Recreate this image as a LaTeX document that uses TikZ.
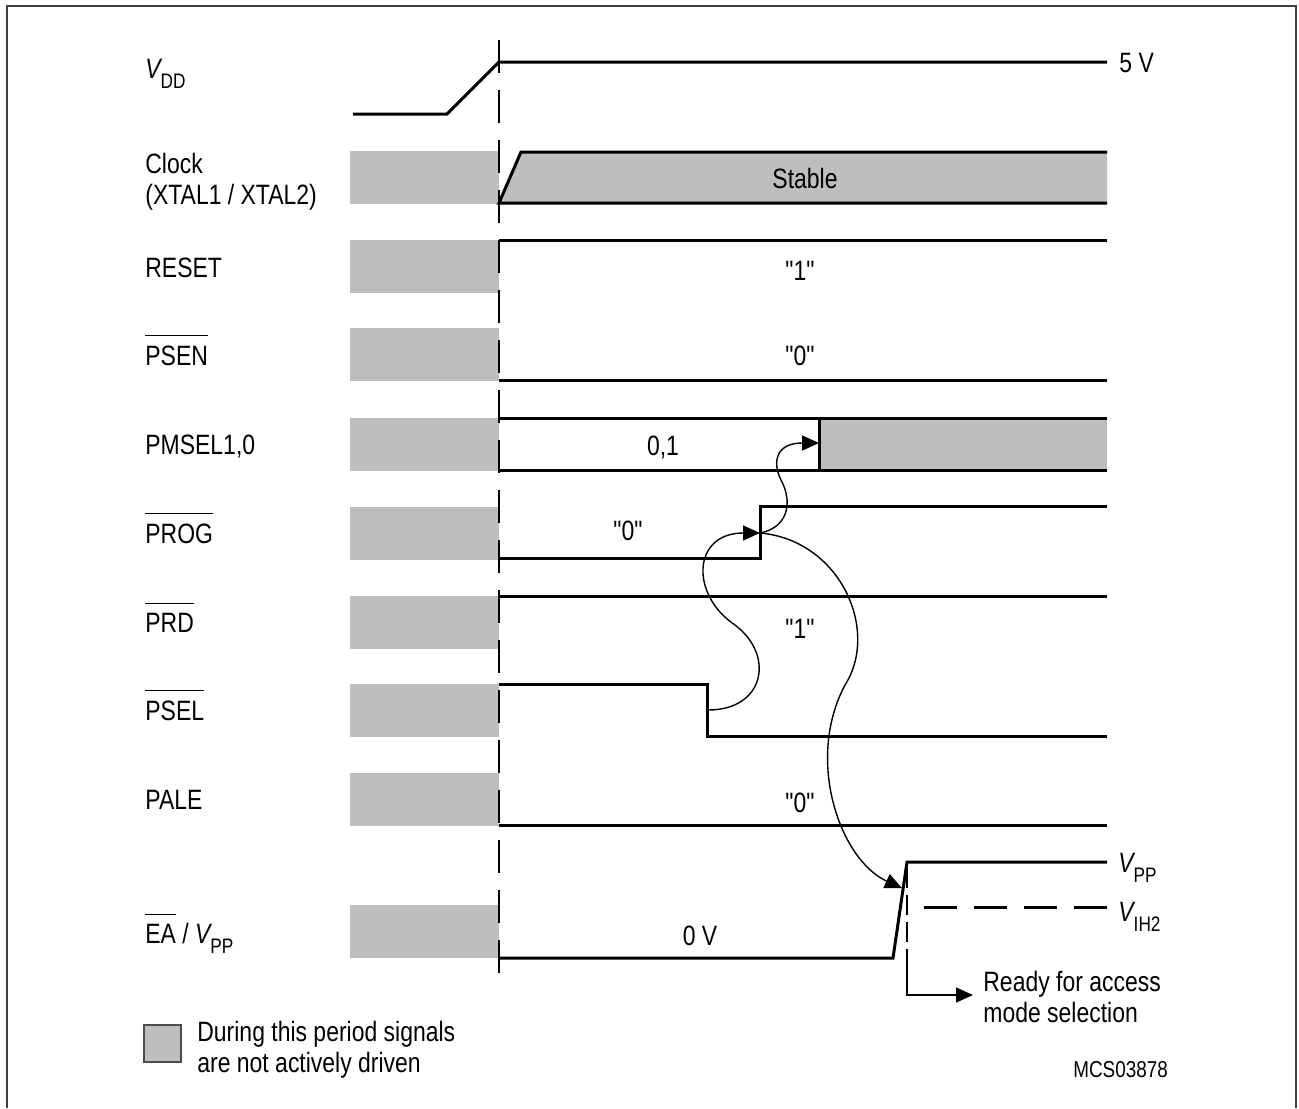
\documentclass[tikz,border=0pt]{standalone}
\usepackage{fontspec}
\newfontfamily\lsans{Liberation Sans}[FakeStretch=0.82]
\usetikzlibrary{arrows.meta}
\definecolor{shade}{RGB}{190,190,190}
\newcommand\mysub[1]{\raisebox{-5pt}{\fontsize{10.5pt}{10.5pt}\selectfont #1}}
\newcommand\ovl[1]{\vbox{\hrule height 0.5pt\kern 4.5pt\hbox{#1}}}
\begin{document}
\begin{tikzpicture}[x=0.5pt,y=-0.5pt,
  every node/.style={font=\lsans\fontsize{14}{16}\selectfont, inner sep=0pt},
  lbl/.style={anchor=base west},
  val/.style={anchor=base},
  sig/.style={line width=1.5pt, line join=miter},
  curve/.style={line width=0.7pt},
  tip/.style={-{Triangle[length=8.5pt,width=7.5pt]}},
  shadebox/.style={fill=shade}]
\useasboundingbox (0,0) rectangle (1299,1108);
% frame
\draw[line width=0.75pt, draw=black!75] (7,1108) -- (7,6) -- (1296,6) -- (1296,1108);

% inactive periods
\foreach \a/\b in {151/204, 240/293, 328/381, 418/471, 507/560, 596/649, 684/737, 773/826, 905/958}
  \fill[shadebox] (350,\a) rectangle (499,\b);

% clock stable area
\fill[shadebox] (499,203) -- (521,152) -- (1107,152) -- (1107,203) -- cycle;
\fill[shadebox] (819,418) rectangle (1107,470);

% power-up reference line
\coordinate (dT) at (499,40);
\coordinate (dB) at (499,975);
\draw[line width=0.8pt, dash pattern=on 16.5pt off 8.5pt] (dT) -- (dB);

% signals
\draw[sig] (353,114) -- (447,114) -- (499,62) -- (1107,62);
\draw[sig] (1107,152) -- (521,152) -- (499,203) -- (1107,203);
\draw[sig] (499,240) -- (1107,240);
\draw[sig] (499,380) -- (1107,380);
\draw[sig] (499,418) -- (1107,418);
\draw[sig] (499,470) -- (1107,470);
\draw[sig] (819,418) -- (819,470);
\draw[sig] (499,558) -- (760,558) -- (760,506) -- (1107,506);
\draw[sig] (499,596) -- (1107,596);
\draw[sig] (499,684) -- (707,684) -- (707,736) -- (1107,736);
\draw[sig] (499,825) -- (1107,825);
\draw[sig] (499,958) -- (893,958) -- (907,862) -- (1107,862);
\draw[sig, dash pattern=on 16.5pt off 8.5pt] (1107,907) -- (924,907);

% left labels
\node[lbl] (lvdd)  at (145,78)  {{\itshape V}\mysub{DD}};
\node[lbl] (lclk)  at (145,173) {Clock};
\node[lbl] (lxtal) at (145,204) {(XTAL1 / XTAL2)};
\node[lbl] (lrst)  at (145,277) {RESET};
\node[lbl] (lpsen) at (145,365) {\ovl{PSEN}};
\node[lbl] (lpms)  at (145,454) {PMSEL1,0};
\node[lbl] (lprog) at (145,543) {\ovl{PROG}};
\node[lbl] (lprd)  at (145,632) {\ovl{PRD}};
\node[lbl] (lpsel) at (145,720) {\ovl{PSEL}};
\node[lbl] (lpale) at (145,809) {PALE};
\node[lbl] (lea)   at (145,943) {\ovl{EA} / {\itshape V}\mysub{PP}};

% values
\node[val] (vstab) at (805,188) {Stable};
\node[val] (vrst)  at (800,280) {"1"};
\node[val] (vpsen) at (800,365) {"0"};
\node[val] (vpms)  at (663,455) {0,1};
\node[val] (vprog) at (628,540) {"0"};
\node[val] (vprd)  at (800,638) {"1"};
\node[val] (vpale) at (800,812) {"0"};
\node[val] (vea)   at (700,945) {0 V};
\node[lbl] (v5)    at (1119,72)  {5 V};
\node[lbl] (vpp)   at (1118,872) {{\itshape V}\mysub{PP}};
\node[lbl] (vih)   at (1118,921) {{\itshape V}\mysub{IH2}};
\node[lbl] (rdy1)  at (983,991)  {Ready for access};
\node[lbl] (rdy2)  at (983,1022) {mode selection};

% edges
\coordinate (pselE)  at (708,710);
\coordinate (progE)  at (760,533);
\coordinate (pmselE) at (819,443);
\coordinate (eaE)    at (902,888);
\draw[curve, tip] (pselE) .. controls (765,710) and (775,655) .. (735,625)
  .. controls (690,595) and (692,533) .. (progE);
\draw[curve, tip] (progE) .. controls (790,527) and (792,500) .. (781,480)
  .. controls (772,462) and (776,443) .. (pmselE);
\draw[curve, tip] (progE) .. controls (840,540) and (880,630) .. (845,685)
  .. controls (805,760) and (840,860) .. (eaE);

% ready marker
\coordinate (rdT) at (907,868);
\coordinate (rdM) at (907,960);
\coordinate (rdC) at (907,995);
\coordinate (rdE) at (973,995);
\draw[line width=0.6pt, dash pattern=on 10pt off 3.5pt] (rdT) -- (rdM);
\draw[line width=0.6pt, tip] (rdM) -- (rdC) -- (rdE);

% legend
\draw[line width=0.6pt, draw=black!70, fill=shade] (144,1025) rectangle (181,1062);
\node[lbl] (leg1) at (197,1041) {During this period signals};
\node[lbl] (leg2) at (197,1072) {are not actively driven};
\node[lbl, font=\lsans\fontsize{11.5}{14}\selectfont] (fig) at (1073,1077) {MCS03878};
\end{tikzpicture}
\end{document}
